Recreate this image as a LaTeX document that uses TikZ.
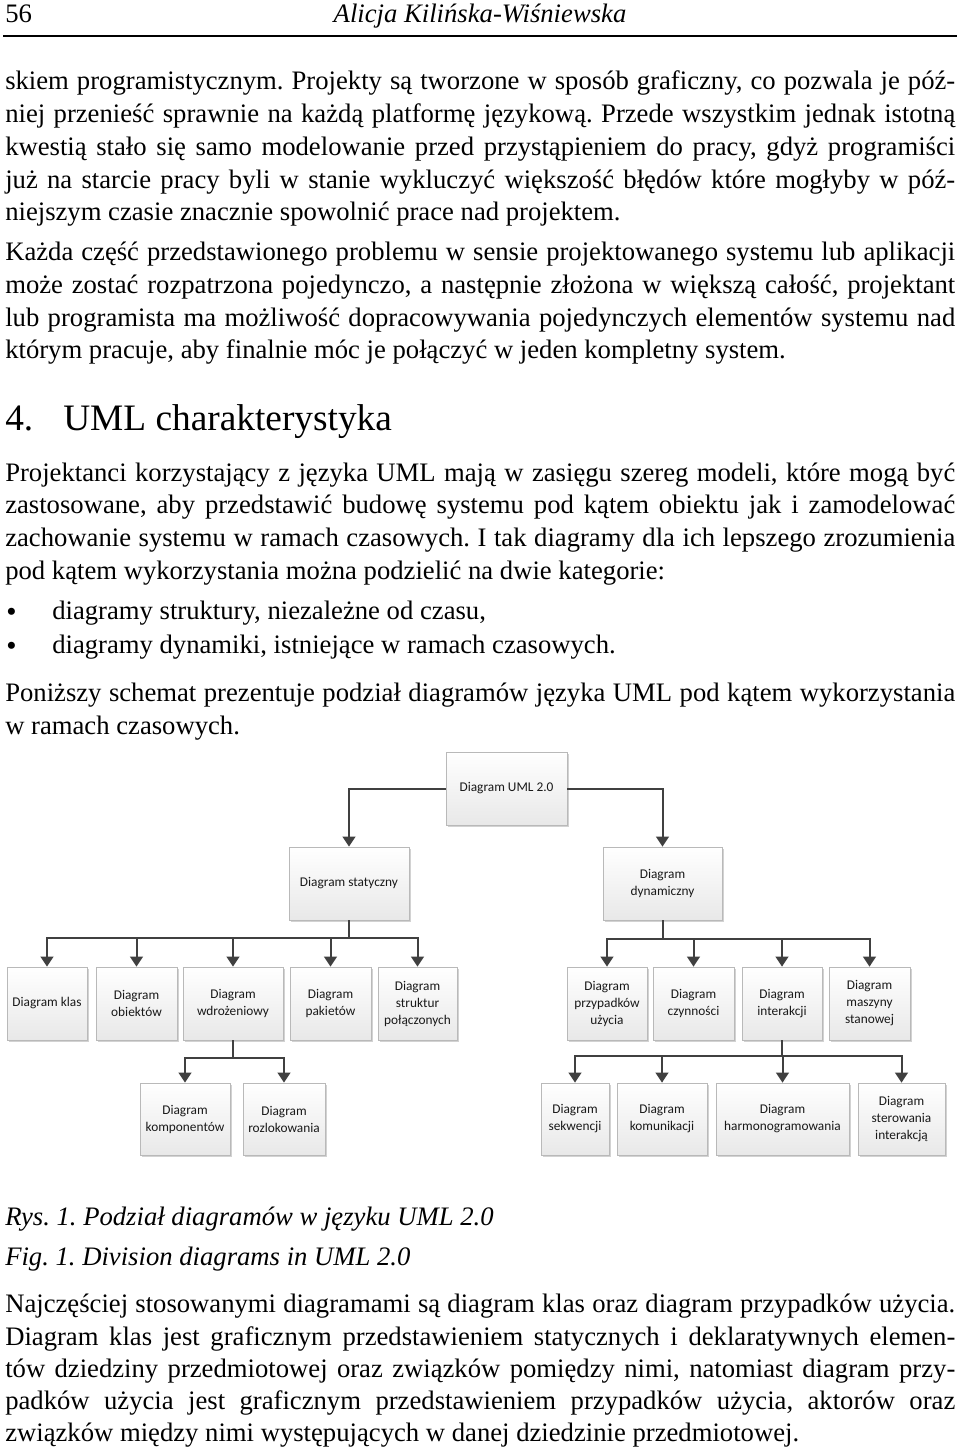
\documentclass[tikz,border=0pt]{standalone}
\usepackage{fontspec}
\setmainfont{Liberation Serif}
\newfontfamily\boxfont{Carlito}
\usetikzlibrary{arrows.meta,shadows}
\frenchspacing
\newcommand\jl[1]{\makebox[712.5pt][s]{#1}}
\newcommand\bodyf{\fontsize{20pt}{24pt}\selectfont}
\tikzset{
 box/.style={draw=gray!55, line width=0.5pt, top color=white, bottom color=gray!18,
   drop shadow={shadow xshift=1.2pt, shadow yshift=-1.2pt, opacity=0.35, fill=gray},
   font=\boxfont\fontsize{10pt}{12.75pt}\selectfont, align=center, inner sep=1pt, text=black!90},
 arr/.style={draw=black!75, line width=1.5pt, -{Triangle[width=9.5pt,length=7.5pt]}},
 body/.style={anchor=base west, inner sep=0pt, font=\bodyf},
 bul/.style={anchor=base west, inner sep=0pt, font=\fontsize{22pt}{22pt}\selectfont},
 ital/.style={anchor=base west, inner sep=0pt, font=\bodyf\itshape},
}
\newcommand\bx[6]{\node[box, minimum width={(#4-#2)*0.75pt}, minimum height={(#5-#3)*0.75pt}] (#1) at ({(#2+#4)/2},{(#3+#5)/2}) {#6};}
\begin{document}
\begin{tikzpicture}[x=0.75pt,y=-0.75pt]
\useasboundingbox[fill=white] (0,0) rectangle (960,1450);
% header
\node[body] (pg) at (5,22) {56};
\node[anchor=base, inner sep=0pt, font=\bodyf\itshape] (auth) at (480,22) {Alicja Kilińska-Wiśniewska};
\draw[line width=1.5pt] (3,36) -- (957,36);
% paragraph 1
\node[body] (a1) at (5,89) {\jl{skiem programistycznym. Projekty są tworzone w sposób graficzny, co pozwala je póź-}};
\node[body] (a2) at (5,122) {\jl{niej przenieść sprawnie na każdą platformę językową. Przede wszystkim jednak istotną}};
\node[body] (a3) at (5,155) {\jl{kwestią stało się samo modelowanie przed przystąpieniem do pracy, gdyż programiści}};
\node[body] (a4) at (5,188) {\jl{już na starcie pracy byli w stanie wykluczyć większość błędów które mogłyby w póź-}};
\node[body] (a5) at (5,220) {niejszym czasie znacznie spowolnić prace nad projektem.};
% paragraph 2
\node[body] (b1) at (5,260) {\jl{Każda część przedstawionego problemu w sensie projektowanego systemu lub aplikacji}};
\node[body] (b2) at (5,293) {\jl{może zostać rozpatrzona pojedynczo, a następnie złożona w większą całość, projektant}};
\node[body] (b3) at (5,326) {\jl{lub programista ma możliwość dopracowywania pojedynczych elementów systemu nad}};
\node[body] (b4) at (5,358) {którym pracuje, aby finalnie móc je połączyć w jeden kompletny system.};
% heading
\node[anchor=base west, inner sep=0pt, font=\fontsize{28pt}{32pt}\selectfont] (h1) at (5,430) {4.};
\node[anchor=base west, inner sep=0pt, font=\fontsize{28pt}{32pt}\selectfont] (h2) at (63,430) {UML charakterystyka};
% paragraph 3
\node[body] (c1) at (5,481) {\jl{Projektanci korzystający z języka UML mają w zasięgu szereg modeli, które mogą być}};
\node[body] (c2) at (5,513) {\jl{zastosowane, aby przedstawić budowę systemu pod kątem obiektu jak i zamodelować}};
\node[body] (c3) at (5,546) {\jl{zachowanie systemu w ramach czasowych. I tak diagramy dla ich lepszego zrozumienia}};
\node[body] (c4) at (5,579) {pod kątem wykorzystania można podzielić na dwie kategorie:};
% bullets
\node[bul] (d1b) at (6,621) {•};
\node[body] (d1) at (52,619) {diagramy struktury, niezależne od czasu,};
\node[bul] (d2b) at (6,655) {•};
\node[body] (d2) at (52,653) {diagramy dynamiki, istniejące w ramach czasowych.};
% paragraph 4
\node[body] (e1) at (5,701) {\jl{Poniższy schemat prezentuje podział diagramów języka UML pod kątem wykorzystania}};
\node[body] (e2) at (5,734) {w ramach czasowych.};
% diagram
\bx{uml}{446}{752}{567}{825}{Diagram UML 2.0}
\bx{stat}{289}{847}{409}{920}{Diagram statyczny}
\bx{dyn}{603}{847}{722}{920}{Diagram\\dynamiczny}
\bx{klas}{7}{967}{87}{1040}{Diagram klas}
\bx{obie}{96}{967}{177}{1040}{Diagram\\obiektów}
\bx{wdro}{183}{967}{283}{1040}{Diagram\\wdrożeniowy}
\bx{paki}{290}{967}{371}{1040}{Diagram\\pakietów}
\bx{stru}{378}{967}{457}{1040}{Diagram\\struktur\\połączonych}
\bx{przy}{567}{967}{647}{1040}{Diagram\\przypadków\\użycia}
\bx{czyn}{653}{967}{734}{1040}{Diagram\\czynności}
\bx{inte}{742}{967}{822}{1040}{Diagram\\interakcji}
\bx{masz}{829}{967}{910}{1040}{Diagram\\maszyny\\stanowej}
\bx{komp}{140}{1083}{230}{1155}{Diagram\\komponentów}
\bx{rozl}{243}{1083}{325}{1155}{Diagram\\rozlokowania}
\bx{sekw}{541}{1083}{609}{1155}{Diagram\\sekwencji}
\bx{komu}{617}{1083}{707}{1155}{Diagram\\komunikacji}
\bx{harm}{716}{1083}{849}{1155}{Diagram\\harmonogramowania}
\bx{ster}{858}{1083}{945}{1155}{Diagram\\sterowania\\interakcją}
% connectors
\draw[arr] (uml.west) -| (stat.north);
\draw[arr] (uml.east) -| (dyn.north);
\coordinate (sb) at (349,938);
\foreach \t in {klas,obie,wdro,paki,stru} \draw[arr] (stat.south) -- (sb) -| (\t.north);
\coordinate (db) at (662.5,939);
\foreach \t in {przy,czyn,inte,masz} \draw[arr] (dyn.south) -- (db) -| (\t.north);
\coordinate (wb) at (233,1058);
\foreach \t in {komp,rozl} \draw[arr] (wdro.south) -- (wb) -| (\t.north);
\coordinate (ib) at (782,1056);
\foreach \t in {sekw,komu,harm,ster} \draw[arr] (inte.south) -- (ib) -| (\t.north);
% captions
\node[ital] (f1) at (5,1225) {Rys. 1. Podział diagramów w języku UML 2.0};
\node[ital] (f2) at (5,1265) {Fig. 1. Division diagrams in UML 2.0};
% paragraph 5
\node[body] (g1) at (5,1312) {\jl{Najczęściej stosowanymi diagramami są diagram klas oraz diagram przypadków użycia.}};
\node[body] (g2) at (5,1345) {\jl{Diagram klas jest graficznym przedstawieniem statycznych i deklaratywnych elemen-}};
\node[body] (g3) at (5,1377) {\jl{tów dziedziny przedmiotowej oraz związków pomiędzy nimi, natomiast diagram przy-}};
\node[body] (g4) at (5,1409) {\jl{padków użycia jest graficznym przedstawieniem przypadków użycia, aktorów oraz}};
\node[body] (g5) at (5,1441) {związków między nimi występujących w danej dziedzinie przedmiotowej.};
\end{tikzpicture}
\end{document}
